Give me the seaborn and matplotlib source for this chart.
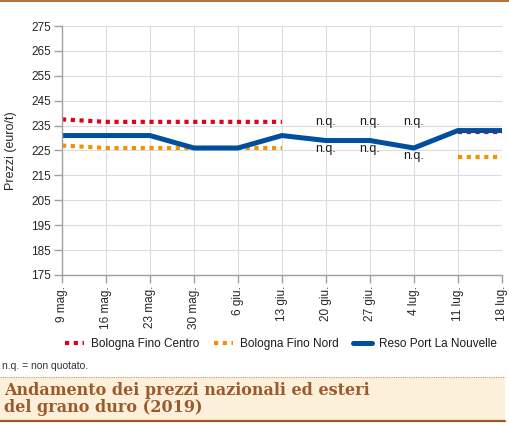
import numpy as np
import pandas as pd

import seaborn as sns
import matplotlib.pyplot as plt
from matplotlib.lines import Line2D
from matplotlib.patches import Rectangle


dates = ["9 mag.", "16 mag.", "23 mag.", "30 mag.", "6 giu.", "13 giu.",
         "20 giu.", "27 giu.", "4 lug.", "11 lug.", "18 lug."]

centro = [237.5, 236.5, 236.5, 236.5, 236.5, 236.5,
          np.nan, np.nan, np.nan, 232.5, 232.5]
nord = [227, 226, 226, 226, 226, 226,
        np.nan, np.nan, np.nan, 222.5, 222.5]
reso = [231, 231, 231, 226, 226, 231, 229, 229, 226, 233, 233]

series_names = ["Bologna Fino Centro", "Bologna Fino Nord", "Reso Port La Nouvelle"]
yticks = list(range(175, 276, 10))

RED = "#e2001a"
ORANGE = "#f39200"
BLUE = "#004f9f"
BROWN = "#9c5a2c"

sns.set_theme(style="white")
plt.rcParams["font.family"] = ["Liberation Sans", "DejaVu Sans"]
plt.rcParams["text.color"] = "#1a1a1a"


def segments(values):
    # split a series into runs without missing values
    rows = []
    seg = 0
    for i, v in enumerate(values):
        if np.isnan(v):
            seg += 1
            continue
        rows.append({"x": i, "y": v, "seg": seg})
    return pd.DataFrame(rows)


fig = plt.figure(figsize=(5.10, 4.23), dpi=100)
ax = fig.add_axes([0.1216, 0.35, 0.984 - 0.1216, 0.9385 - 0.35])

dot = dict(linewidth=3.0, linestyle=(0, (1, 1.1)))
styles = [
    (centro, RED, dot),
    (nord, ORANGE, dot),
    (reso, BLUE, dict(linewidth=3.6, linestyle="-")),
]

for values, color, kw in styles:
    df = segments(values)
    sns.lineplot(
        data=df,
        x="x",
        y="y",
        units="seg",
        estimator=None,
        color=color,
        ax=ax,
        legend=False,
        **kw
    )

# n.q. labels for missing quotes
for i, v in enumerate(centro):
    if np.isnan(v):
        ax.text(i, 236.5, "n.q.", ha="center", va="center", fontsize=9)
for i, v in enumerate(nord):
    if np.isnan(v):
        ax.text(i, reso[i] - 3.3, "n.q.", ha="center", va="center", fontsize=9)

ax.set_xlim(0, len(dates) - 1)
ax.set_ylim(yticks[0], yticks[-1])
ax.set_xticks(range(len(dates)))
ax.set_xticklabels(dates, rotation=90, fontsize=8.5)
ax.set_yticks(yticks)
ax.set_yticklabels([str(t) for t in yticks], fontsize=8.5)
ax.set_xlabel("")
ax.set_ylabel("Prezzi (euro/t)", fontsize=9, labelpad=10)

ax.grid(True, color="#dcdcdc", linewidth=0.8)
ax.set_axisbelow(True)
for side in ["top", "right"]:
    ax.spines[side].set_visible(False)
for side in ["left", "bottom"]:
    ax.spines[side].set_color("#a0a0a0")
    ax.spines[side].set_linewidth(1.0)
ax.tick_params(axis="both", which="both", length=6, width=1,
               color="#a0a0a0", pad=2, left=True, bottom=True)

handles = [
    Line2D([0], [0], color=RED, **dot),
    Line2D([0], [0], color=ORANGE, **dot),
    Line2D([0], [0], color=BLUE, linewidth=3.6),
]
fig.legend(
    handles,
    series_names,
    loc="center",
    bbox_to_anchor=(0.551, 0.187),
    ncol=3,
    frameon=False,
    fontsize=8.5,
    handlelength=1.6,
    columnspacing=1.2,
    handletextpad=0.6
)

fig.text(0.004, 0.135, "n.q. = non quotato.", fontsize=7.5,
         va="center", color="#333333")

# title band
fig.patches.append(Rectangle((0, 0.005), 0.99, 0.104, transform=fig.transFigure,
                             facecolor="#fdf0da", edgecolor="none", zorder=0))
fig.add_artist(Line2D([0, 0.99], [0.109, 0.109], transform=fig.transFigure,
                      color="#c89a72", linewidth=0.8, linestyle=(0, (1, 1))))
fig.add_artist(Line2D([0, 0.99], [0.005, 0.005], transform=fig.transFigure,
                      color=BROWN, linewidth=1.6))
fig.add_artist(Line2D([0, 1], [0.998, 0.998], transform=fig.transFigure,
                      color="#b5743f", linewidth=1.5))
fig.text(0.008, 0.057, "Andamento dei prezzi nazionali ed esteri\ndel grano duro (2019)",
         family=["DejaVu Serif"], fontweight="bold", fontsize=11.5,
         color=BROWN, va="center", linespacing=1.0)

fig.savefig("out.png", dpi=100, facecolor="white")
plt.close(fig)
